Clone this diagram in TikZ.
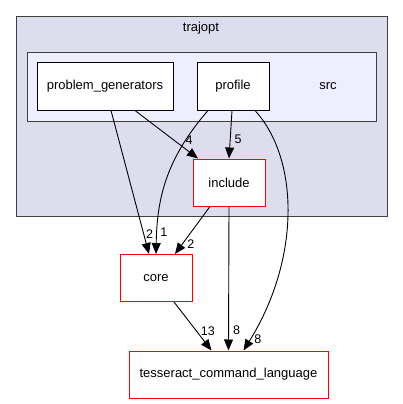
\documentclass[tikz,border=0pt]{standalone}
\usepackage{fontspec}
\setmainfont{Liberation Sans}
\usetikzlibrary{arrows.meta}

\definecolor{clusterfill}{HTML}{DDDDEE}
\definecolor{srcfill}{HTML}{EEEEFF}
\definecolor{clusterline}{HTML}{404040}

\begin{document}
\begin{tikzpicture}[
    x=1pt, y=-1pt,
    cluster/.style={rectangle, draw=clusterline, line width=1pt, anchor=north west},
    dirbox/.style={rectangle, draw=black, fill=white, line width=1pt, minimum height=47pt, font=\fontsize{13}{15}\selectfont},
    extbox/.style={rectangle, draw=red, fill=white, line width=1pt, minimum height=47pt, font=\fontsize{13}{15}\selectfont},
    count/.style={font=\fontsize{12.5}{14}\selectfont, inner sep=1pt},
    arrow/.style={-{Triangle[length=11pt,width=9pt]}, line width=0.9pt, black},
]
\useasboundingbox (0,0) rectangle (403,404);

% Clusters
\node[cluster, fill=clusterfill, minimum width=371pt, minimum height=200pt] (trajopt) at (16,16) {};
\node[font=\fontsize{13}{15}\selectfont] at (201,28) {trajopt};
\node[cluster, fill=srcfill, minimum width=349pt, minimum height=69pt] (src) at (27,52) {};
\node[font=\fontsize{13}{15}\selectfont] at (328,86) {src};

% Directories
\node[dirbox, minimum width=136pt] (problemgen) at (105,86.5) {problem\_generators};
\node[dirbox, minimum width=72pt] (profile) at (233,86.5) {profile};
\node[extbox, minimum width=72pt] (include) at (229,182.5) {include};
\node[extbox, minimum width=72pt] (core) at (156,278) {core};
\node[extbox, minimum width=199pt] (tcl) at (228.5,374.5) {tesseract\_command\_language};

% Dependencies
\draw[arrow] ([xshift=30pt]problemgen.south) -- node[count, pos=0.62, right=10pt] {4} ([xshift=-31pt]include.north);
\draw[arrow] ([xshift=6pt]problemgen.south) -- node[count, pos=0.86, right=1pt] {2} ([xshift=-7pt]core.north);
\draw[arrow] ([xshift=-1pt]profile.south) -- node[count, pos=0.6, right=3pt] {5} (include.north);
\draw[arrow] ([xshift=-25pt]profile.south) .. controls (165,160) and (157,200) .. node[count, pos=0.86, right=2pt] {1} (core.north);
\draw[arrow] ([xshift=22pt]profile.south) .. controls (300,160) and (300,260) .. node[count, pos=0.96, right=3pt] {8} ([xshift=15pt]tcl.north);
\draw[arrow] ([xshift=-19pt]include.south) -- node[count, pos=0.8, right=4pt] {2} ([xshift=19pt]core.north);
\draw[arrow] (include.south) -- node[count, pos=0.86, right=3pt] {8} (tcl.north);
\draw[arrow] ([xshift=18pt]core.south) -- node[count, pos=0.6, right=3pt] {13} ([xshift=-17pt]tcl.north);

\end{tikzpicture}
\end{document}
